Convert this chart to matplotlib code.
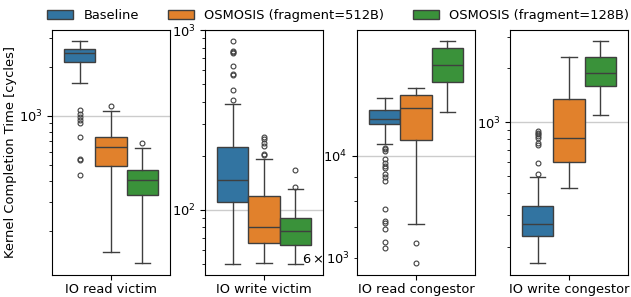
import numpy as np
import matplotlib.pyplot as plt
from matplotlib.patches import Patch

panels = ["IO read victim", "IO write victim", "IO read congestor", "IO write congestor"]
series = ["Baseline", "OSMOSIS (fragment=512B)", "OSMOSIS (fragment=128B)"]
colors = ["#3274a1", "#e1812c", "#3a923a"]

# [whislo, q1, med, q3, whishi] per panel
baseline_stats = [
    [1582, 2143, 2411, 2572, 2865],
    [50, 111, 147, 225, 386],
    [10620, 11720, 12035, 12570, 13370],
    [161.5, 230.5, 268, 340, 494],
]
osm512_stats = [
    [147.5, 498, 644, 748, 1073],
    [50.8, 65.9, 80, 120, 191],
    [7104, 10820, 12735, 13550, 14030],
    [425, 594, 810, 1346, 2305],
]
osm128_stats = [
    [126.5, 331, 409, 467, 635],
    [50, 63.8, 76, 90.6, 131.5],
    [12464, 14505, 15772, 17195, 17785],
    [1090, 1585, 1875, 2323, 2845],
]

baseline_fliers = [
    [1088, 1028, 990, 946, 910, 741, 545, 539, 439],
    [868, 764, 751, 741, 632, 573, 566, 462, 411],
    [10420, 10356, 10270, 9852, 9670, 9525, 9400, 9125, 9020, 8836,
     7681, 7208, 7158, 6936, 6510, 6300],
    [890, 871, 853, 835, 817, 760, 743, 587, 511],
]
osm512_fliers = [
    [1151],
    [256, 249, 235, 228, 205, 203],
    [6460, 5848],
    [],
]
osm128_fliers = [
    [682],
    [166, 134.4],
    [],
    [],
]

all_stats = [baseline_stats, osm512_stats, osm128_stats]
all_fliers = [baseline_fliers, osm512_fliers, osm128_fliers]
ylims = [(107.3, 3342), (43.5, 1001), (5510, 18790), (138.8, 3279)]

plt.rcParams["font.size"] = 9.4

W, H = 631, 297
fig = plt.figure(figsize=(W / 100, H / 100), dpi=100)
lefts = [52, 205, 357, 510]
axw = 118
top, bottom = 30, 275

line_c = "#3f3f3f"
bw = 0.8 / 3
offsets = [-bw, 0, bw]

for p, name in enumerate(panels):
    ax = fig.add_axes([lefts[p] / W, (H - bottom) / H, axw / W, (bottom - top) / H])
    for s in range(3):
        lo, q1, med, q3, hi = all_stats[s][p]
        st = dict(whislo=lo, q1=q1, med=med, q3=q3, whishi=hi, fliers=all_fliers[s][p])
        ax.bxp([st], positions=[offsets[s]], widths=bw, capwidths=bw * 0.5,
               patch_artist=True, manage_ticks=False,
               boxprops=dict(facecolor=colors[s], edgecolor=line_c, linewidth=1.0),
               medianprops=dict(color=line_c, linewidth=1.0),
               whiskerprops=dict(color=line_c, linewidth=1.0),
               capprops=dict(color=line_c, linewidth=1.0),
               flierprops=dict(marker="o", markersize=3.5, markerfacecolor="none",
                               markeredgecolor=line_c, markeredgewidth=0.8))
    ax.set_yscale("log")
    ax.set_ylim(*ylims[p])
    ax.set_xlim(-0.5, 0.5)
    ax.set_xticks([0])
    ax.set_xticklabels([name])
    ax.tick_params(axis="x", pad=2.5)
    ax.set_axisbelow(True)
    ax.yaxis.grid(True, which="major", color="#cccccc", linewidth=1.0)
    if p == 0:
        ax.set_ylabel("Kernel Completion Time [cycles]")
        ax.yaxis.set_label_coords(-0.3, 0.5)

handles = [Patch(facecolor=c, edgecolor=line_c, linewidth=1.0) for c in colors]
fig.legend(handles, series, loc="center left", ncol=3, frameon=False,
           columnspacing=2.2, bbox_to_anchor=(35 / W, 1 - 15.5 / H))

fig.savefig("out.png", dpi=100)
